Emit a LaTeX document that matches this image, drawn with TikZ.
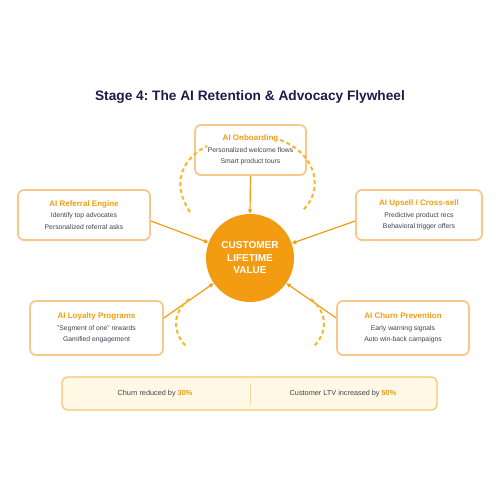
\documentclass[tikz,border=0pt]{standalone}
\usepackage{fontspec}
\setmainfont{Liberation Sans}
\usetikzlibrary{arrows.meta,shadows,calc}
\definecolor{orng}{HTML}{F39C12}
\definecolor{boxbd}{HTML}{F8C88A}
\definecolor{navy}{HTML}{1E1B4B}
\definecolor{bodytxt}{HTML}{3F4350}
\definecolor{dashc}{HTML}{F5B82A}
\definecolor{bannerfill}{HTML}{FEF8E4}
\definecolor{bannerbd}{HTML}{F7C66A}
\definecolor{divc}{HTML}{F8D8A0}
\newcommand{\ttl}[1]{\textcolor{orng}{\fontsize{8}{11.5}\selectfont\bfseries #1}}
\frenchspacing
\begin{document}
\begin{tikzpicture}[x=1pt,y=-1pt,
  card/.style={draw=boxbd, line width=1.7pt, fill=white, rounded corners=6pt,
    align=center, text=bodytxt, font=\fontsize{6.8}{11.5}\selectfont, inner sep=0pt,
    minimum height=50pt,
    drop shadow={shadow xshift=0pt,shadow yshift=-1.2pt,opacity=0.15,fill=orng}},
  conn/.style={draw=orng, line width=1.2pt, -{Triangle[length=4.5pt,width=4pt]}},
  flow/.style={draw=dashc, line width=2pt, dash pattern=on 4pt off 3pt},
  banner/.style={draw=bannerbd, line width=1.2pt, fill=bannerfill, rounded corners=6pt,
    minimum width=375pt, minimum height=33pt, inner sep=0pt},
  bantext/.style={text=bodytxt, font=\fontsize{7.3}{9}\selectfont, inner sep=0pt}
]
\useasboundingbox[fill=white] (0,0) rectangle (500,500);

\node[anchor=base, font=\fontsize{13.7}{16}\selectfont\bfseries, text=navy] (title) at (250,101)
  {Stage 4: The AI Retention \& Advocacy Flywheel};

\node[card, minimum width=111pt] (onb) at (250.5,150)
  {\ttl{AI Onboarding}\\Personalized welcome flows\\Smart product tours};
\node[card, minimum width=132pt] (ref) at (84,215)
  {\ttl{AI Referral Engine}\\Identify top advocates\\Personalized referral asks};
\node[card, minimum width=126pt] (ups) at (419,215)
  {\ttl{AI Upsell / Cross-sell}\\Predictive product recs\\Behavioral trigger offers};
\node[card, minimum width=133pt, minimum height=54pt] (loy) at (96.5,328)
  {\ttl{AI Loyalty Programs}\\"Segment of one" rewards\\Gamified engagement};
\node[card, minimum width=132pt, minimum height=54pt] (chu) at (403,328)
  {\ttl{AI Churn Prevention}\\Early warning signals\\Auto win-back campaigns};

\node[circle, fill=orng, minimum size=88pt, inner sep=0pt, text=white,
  font=\fontsize{10}{12.5}\selectfont\bfseries, align=center] (clv) at (250,258)
  {CUSTOMER\\LIFETIME\\VALUE};

\draw[conn] (onb.south) -- (clv.north);
\draw[conn] ($(ref.east)+(0,6)$) -- (clv);
\draw[conn] ($(ups.west)+(0,6)$) -- (clv);
\draw[conn] ($(loy.east)+(0,-10)$) -- (clv);
\draw[conn] ($(chu.west)+(0,-10)$) -- (clv);

\draw[flow] (190,212) .. controls (172,185) and (180,160) .. (207,146);
\draw[flow] (280,140) .. controls (310,150) and (328,185) .. (303,210);
\draw[flow] (189,299) .. controls (170,315) and (174,335) .. (187,347);
\draw[flow] (311,299) .. controls (330,315) and (326,335) .. (313,347);

\node[banner] (ban) at (249.5,393.5) {};
\draw[divc, line width=1pt] (250,383) -- (250,404);
\node[bantext] (b1) at (155,393.5) {Churn reduced by \textcolor{orng}{\bfseries 30\%}};
\node[bantext] (b2) at (343,393.5) {Customer LTV increased by \textcolor{orng}{\bfseries 50\%}};
\end{tikzpicture}
\end{document}
